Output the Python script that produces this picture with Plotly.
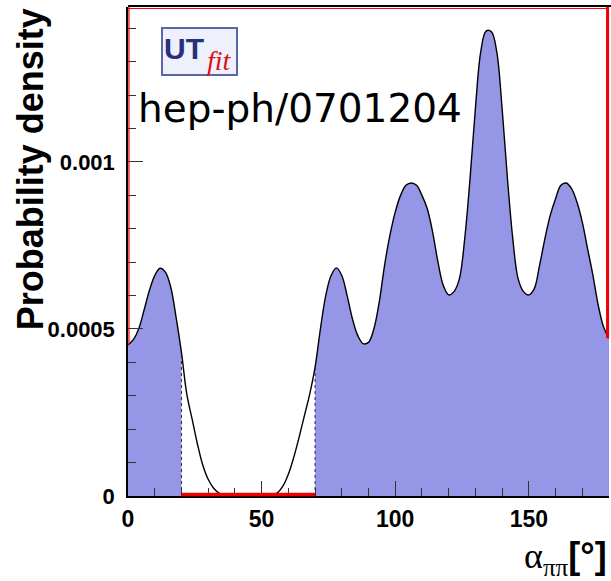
import plotly.graph_objects as go

# Posterior probability density of alpha (pi pi analysis), sampled every 2 degrees
alpha_deg = list(range(0, 181, 2))
density = [
    0.000452, 0.000468, 0.000500, 0.000556, 0.000615, 0.000660, 0.000682, 0.000670,
    0.000625, 0.000535, 0.000430, 0.000305, 0.000230, 0.000155, 0.000092, 0.000050,
    0.000024, 0.000009, 0.000003, 0.000001, 0.0, 0.0, 0.0, 0.0,
    0.0, 0.0, 0.000001, 0.000003, 0.000010, 0.000030, 0.000065, 0.000115,
    0.000175, 0.000240, 0.000305, 0.000385, 0.000500, 0.000600, 0.000660, 0.000683,
    0.000660, 0.000600, 0.000530, 0.000480, 0.000456, 0.000460, 0.000500, 0.000580,
    0.000690, 0.000780, 0.000850, 0.000900, 0.000930, 0.000937, 0.000930, 0.000900,
    0.000860, 0.000790, 0.000700, 0.000630, 0.000602, 0.000612, 0.000650, 0.000770,
    0.000950, 0.001160, 0.001330, 0.001392, 0.001390, 0.001330, 0.001160, 0.000950,
    0.000770, 0.000650, 0.000612, 0.000602, 0.000620, 0.000690, 0.000770, 0.000840,
    0.000890, 0.000930, 0.000937, 0.000920, 0.000880, 0.000820, 0.000740, 0.000660,
    0.000570, 0.000505, 0.000472,
]

# 95% probability intervals (shaded)
interval_low = [0, 20]
interval_high = [70, 180]

x_ticks = [0, 50, 100, 150]
x_tick_labels = ["0", "50", "100", "150"]
y_ticks = [0, 0.0005, 0.001]
y_tick_labels = ["0", "0.0005", "0.001"]

x_range = [0, 180]
y_range = [0, 0.001464]

FILL = "#9696e6"
RED = "#ee0000"

fig = go.Figure()

# shaded intervals
for lo, hi in (interval_low, interval_high):
    xs = [a for a in alpha_deg if lo <= a <= hi]
    ys = [d for a, d in zip(alpha_deg, density) if lo <= a <= hi]
    fig.add_trace(go.Scatter(
        x=xs, y=ys, mode="lines",
        line=dict(width=0, shape="spline"),
        fill="tozeroy", fillcolor=FILL, hoverinfo="skip", showlegend=False,
    ))

# full density curve
fig.add_trace(go.Scatter(
    x=alpha_deg, y=density, mode="lines",
    line=dict(color="black", width=1.4, shape="spline"),
    showlegend=False,
))

shapes = []
# dotted edges of the shaded intervals
for edge in (interval_low[1], interval_high[0]):
    d = density[alpha_deg.index(edge)]
    shapes.append(dict(type="line", xref="x", yref="y", x0=edge, x1=edge, y0=0, y1=d,
                       line=dict(color="#222244", width=1, dash="dot")))

# red outline of the excluded region
lo_end, hi_start = interval_low[1], interval_high[0]
shapes += [
    dict(type="line", xref="x", yref="paper", x0=lo_end, x1=hi_start, y0=0.003, y1=0.003,
         line=dict(color=RED, width=3.5)),
    dict(type="line", xref="paper", yref="y", x0=0.002, x1=0.002, y0=density[0], y1=y_range[1],
         line=dict(color=RED, width=1.2)),
    dict(type="line", xref="x", yref="paper", x0=x_range[0], x1=x_range[1], y0=0.997, y1=0.997,
         line=dict(color=RED, width=1)),
    dict(type="line", xref="paper", yref="y", x0=0.997, x1=0.997, y0=density[-1], y1=y_range[1],
         line=dict(color=RED, width=3)),
]

# top frame
shapes.append(dict(type="line", xref="paper", yref="paper", x0=0, x1=1.01, y0=1.002, y1=1.002,
                   line=dict(color="black", width=2)))

# UTfit logo box
shapes.append(dict(type="rect", xref="paper", yref="paper",
                   x0=0.0707, x1=0.2266, y0=0.861, y1=0.957,
                   line=dict(color="#5a66a8", width=2), fillcolor="#eef0fb", layer="above"))

fig.update_layout(shapes=shapes)

annotations = [
    dict(text="<b>UT</b>", x=0.117, y=0.915, xref="paper", yref="paper",
         xanchor="center", yanchor="middle",
         showarrow=False, font=dict(family="Liberation Sans", size=30, color="#27307a")),
    dict(text="<i>fit</i>", x=0.19, y=0.89, xref="paper", yref="paper",
         xanchor="center", yanchor="middle",
         showarrow=False, font=dict(family="Liberation Serif", size=28, color="#dd1111")),
    dict(text="hep-ph/0701204", x=0.357, y=0.792, xref="paper", yref="paper",
         xanchor="center", yanchor="middle",
         showarrow=False, font=dict(family="DejaVu Sans", size=39, color="black")),
    dict(text="Probability density", x=-0.204, y=0.668, xref="paper", yref="paper",
         xanchor="center", yanchor="middle",
         showarrow=False, textangle=-90,
         font=dict(family="Liberation Sans", size=36, color="black", weight="bold")),
    dict(text="<span style='font-family:Liberation Serif'>α<sub>ππ</sub></span><b>[°]</b>",
         x=1.0, y=-0.126, xref="paper", yref="paper", xanchor="right", yanchor="middle",
         showarrow=False, font=dict(family="Liberation Sans", size=36, color="black")),
]

fig.update_layout(
    annotations=annotations,
    width=611, height=581, autosize=False,
    margin=dict(l=128, r=2, t=7, b=85),
    paper_bgcolor="white", plot_bgcolor="white",
    xaxis=dict(
        range=x_range, tickmode="array", tickvals=x_ticks, ticktext=x_tick_labels,
        ticks="inside", ticklen=15, tickcolor="#333333", tickwidth=1,
        minor=dict(ticks="inside", ticklen=8, tickmode="linear", tick0=0, dtick=10,
                   tickcolor="#333333", tickwidth=1, showgrid=False),
        showgrid=False, zeroline=False, showline=True, linecolor="black", linewidth=1.5,
        tickfont=dict(family="Liberation Sans", size=23, color="black", weight="bold"),
        ticklabelstandoff=2,
    ),
    yaxis=dict(
        range=y_range, tickmode="array", tickvals=y_ticks, ticktext=y_tick_labels,
        ticks="inside", ticklen=15, tickcolor="#333333", tickwidth=1,
        minor=dict(ticks="inside", ticklen=8, tickmode="linear", tick0=0, dtick=0.0001,
                   tickcolor="#333333", tickwidth=1, showgrid=False),
        showgrid=False, zeroline=False, showline=True, linecolor="black", linewidth=1.5,
        tickfont=dict(family="Liberation Sans", size=22, color="black", weight="bold"),
        ticklabelstandoff=7,
    ),
)

fig.write_html("out.html")
